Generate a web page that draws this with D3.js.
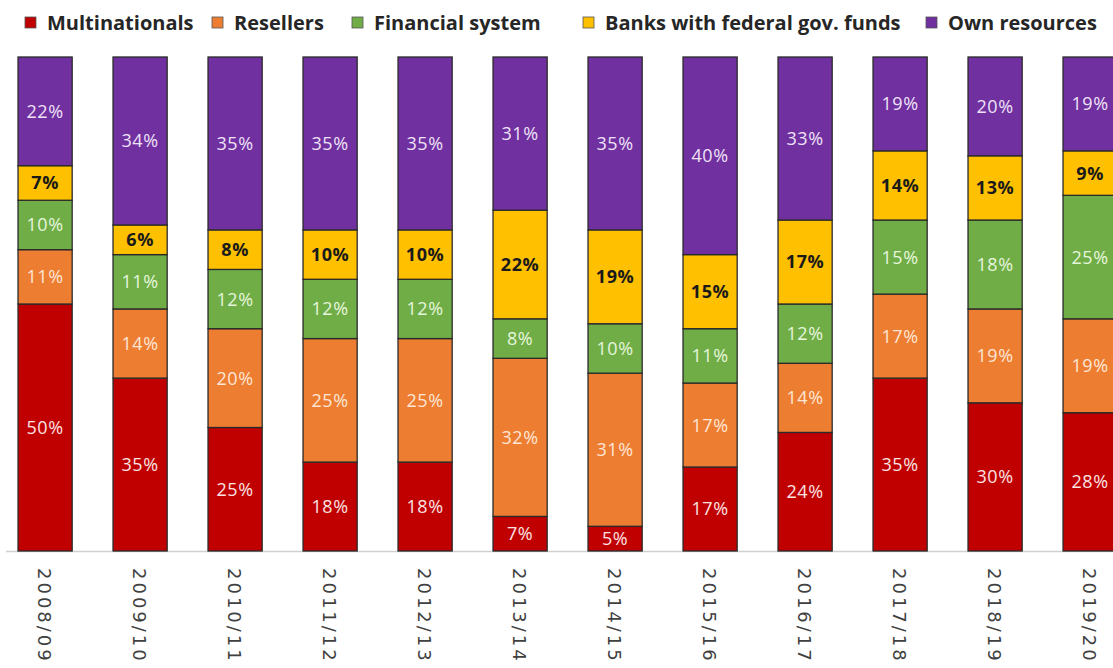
<!DOCTYPE html>
<html>
<head>
<meta charset="utf-8">
<script src="https://cdn.jsdelivr.net/npm/d3@7"></script>
<style>
  html, body { margin: 0; padding: 0; background: #ffffff; }
  svg { display: block; }
</style>
</head>
<body>
<svg id="chart" width="1113" height="668"></svg>
<script>
// Crop years (x axis)
const years = ["2008/09", "2009/10", "2010/11", "2011/12", "2012/13", "2013/14",
               "2014/15", "2015/16", "2016/17", "2017/18", "2018/19", "2019/20"];

// Funding sources, bottom to top of each bar
const sources = ["Multinationals", "Resellers", "Financial system",
                 "Banks with federal gov. funds", "Own resources"];

// Share of each source per year (%)
const multinationals = [50, 35, 25, 18, 18, 7, 5, 17, 24, 35, 30, 28];
const resellers      = [11, 14, 20, 25, 25, 32, 31, 17, 14, 17, 19, 19];
const financial      = [10, 11, 12, 12, 12, 8, 10, 11, 12, 15, 18, 25];
const federalBanks   = [7, 6, 8, 10, 10, 22, 19, 15, 17, 14, 13, 9];
const ownResources   = [22, 34, 35, 35, 35, 31, 35, 40, 33, 19, 20, 19];

const seriesValues = [multinationals, resellers, financial, federalBanks, ownResources];
const colors = ["#c00000", "#ed7d31", "#70ad47", "#ffc000", "#7030a0"];
const labelColors = ["#fbe3e3", "#fde6d6", "#e6f6dc", "#1a1a1a", "#efe2f7"];

const rows = years.map((y, i) => {
  const r = { year: y };
  sources.forEach((s, k) => { r[s] = seriesValues[k][i]; });
  return r;
});

const stacked = d3.stack().keys(sources)(rows);

const svg = d3.select("#chart");

const x = d3.scaleBand()
  .domain(years)
  .range([-2.4, 1137.6])
  .paddingInner(0.43)
  .paddingOuter(0.215);

const y = d3.scaleLinear().domain([0, 100]).range([551, 57]);

// Baseline
svg.append("line")
  .attr("x1", 6).attr("x2", 1113)
  .attr("y1", y(0) + 0.5).attr("y2", y(0) + 0.5)
  .attr("stroke", "#d0d0d0").attr("stroke-width", 1.5);

// Stacked segments
const layers = svg.append("g").selectAll("g")
  .data(stacked)
  .join("g")
  .attr("fill", (d, i) => colors[i]);

layers.selectAll("rect")
  .data(d => d)
  .join("rect")
  .attr("x", d => x(d.data.year))
  .attr("y", d => y(d[1]))
  .attr("width", x.bandwidth())
  .attr("height", d => y(d[0]) - y(d[1]))
  .attr("stroke", "#2a2a2a")
  .attr("stroke-width", 1.3);

// Value labels
const labels = svg.append("g");
stacked.forEach((layer, k) => {
  labels.selectAll(null)
    .data(layer)
    .join("text")
    .attr("x", d => x(d.data.year) + x.bandwidth() / 2)
    .attr("y", d => (y(d[0]) + y(d[1])) / 2)
    .attr("dy", "0.36em")
    .attr("text-anchor", "middle")
    .attr("font-family", "'Open Sans', Lato, sans-serif")
    .attr("font-size", 18)
    .attr("letter-spacing", 0.6)
    .attr("font-weight", k === 3 ? 700 : 400)
    .attr("fill", labelColors[k])
    .text(d => (d[1] - d[0]) + "%");
});

// X axis labels, rotated to read downwards
svg.append("g").selectAll("text")
  .data(years)
  .join("text")
  .attr("transform", d => `translate(${x(d) + x.bandwidth() / 2 - 7},568) rotate(90)`)
  .attr("text-anchor", "start")
  .attr("font-family", "'DejaVu Sans', sans-serif")
  .attr("font-size", 18)
  .attr("letter-spacing", 3)
  .attr("fill", "#404040")
  .text(d => d);

// Legend
const legendX = [25, 212, 352, 583, 926];
const legend = svg.append("g").selectAll("g")
  .data(sources)
  .join("g")
  .attr("transform", (d, i) => `translate(${legendX[i]},0)`);

legend.append("rect")
  .attr("x", 0).attr("y", 17)
  .attr("width", 11).attr("height", 11)
  .attr("fill", (d, i) => colors[i])
  .attr("stroke", "#555").attr("stroke-width", 0.8);

legend.append("text")
  .attr("x", 22).attr("y", 22.5)
  .attr("dy", "0.36em")
  .attr("font-family", "'Open Sans', Lato, sans-serif")
  .attr("font-size", 20)
  .attr("font-weight", 700)
  .attr("fill", "#262626")
  .text(d => d);
</script>
</body>
</html>
